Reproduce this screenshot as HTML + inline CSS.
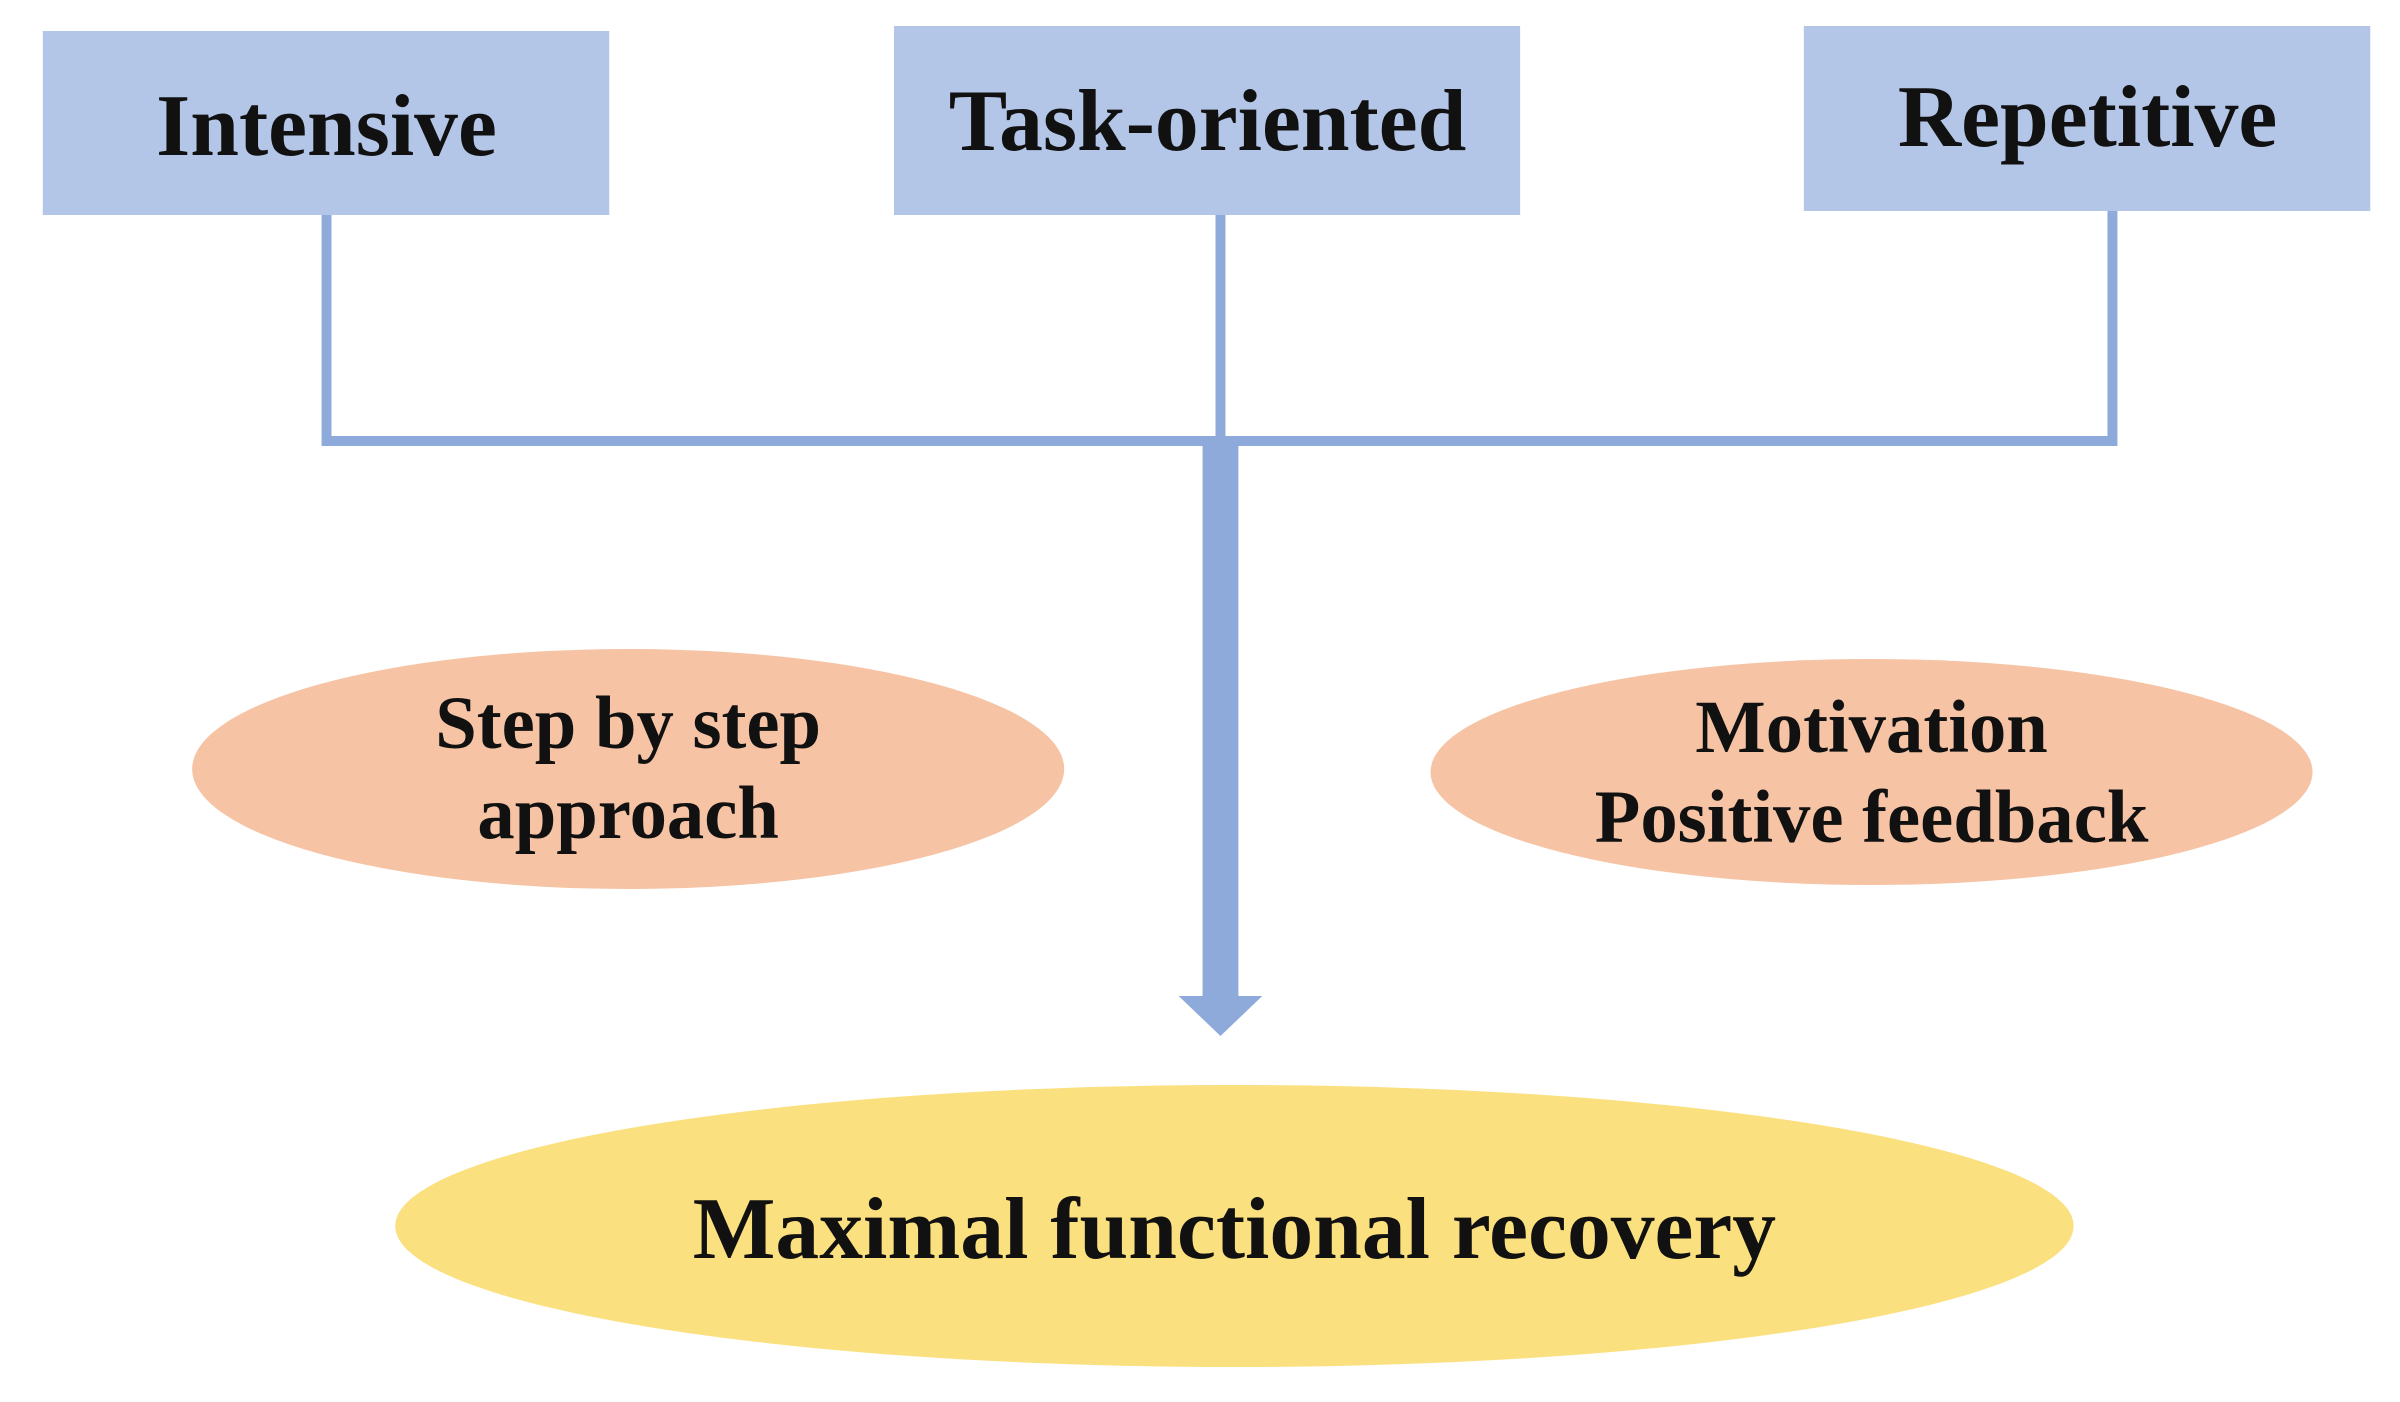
<!DOCTYPE html>
<html><head><meta charset="utf-8"><style>
html,body{margin:0;padding:0;background:#fff;}
svg{display:block;}
text{font-family:"Liberation Serif",serif;font-weight:bold;fill:#111;}
</style></head><body>
<svg width="2400" height="1402" viewBox="0 0 2400 1402" xmlns="http://www.w3.org/2000/svg">
<rect width="2400" height="1402" fill="#fff"/>
<g transform="scale(0.9955,1)">
<polyline points="328,215 328,441 2122,441 2122,211" fill="none" stroke="#8eaadb" stroke-width="10"/>
<line x1="1226" y1="215" x2="1226" y2="441" stroke="#8eaadb" stroke-width="10"/>
<rect x="1208" y="436" width="36" height="566" fill="#8eaadb"/>
<polygon points="1184,996 1268,996 1226,1036" fill="#8eaadb"/>
<rect x="43" y="31" width="569" height="184" fill="#b4c6e7"/>
<rect x="898" y="26" width="629" height="189" fill="#b4c6e7"/>
<rect x="1812" y="26" width="569" height="185" fill="#b4c6e7"/>
<text x="328" y="155" font-size="88" text-anchor="middle">Intensive</text>
<text x="1213" y="150" font-size="88" text-anchor="middle">Task-oriented</text>
<text x="2097" y="146" font-size="88" text-anchor="middle">Repetitive</text>
<ellipse cx="631" cy="769" rx="438" ry="120" fill="#f6c4a4"/>
<ellipse cx="1880" cy="772" rx="443" ry="113" fill="#f6c4a4"/>
<ellipse cx="1240" cy="1226" rx="843" ry="141" fill="#fbe07f"/>
<text x="631" y="748" font-size="75" text-anchor="middle">Step by step</text>
<text x="631" y="838" font-size="75" text-anchor="middle">approach</text>
<text x="1880" y="752" font-size="75" text-anchor="middle">Motivation</text>
<text x="1880" y="842" font-size="75" text-anchor="middle">Positive feedback</text>
<text x="1240" y="1258" font-size="88" text-anchor="middle">Maximal functional recovery</text>
</g>
</svg>
</body></html>
